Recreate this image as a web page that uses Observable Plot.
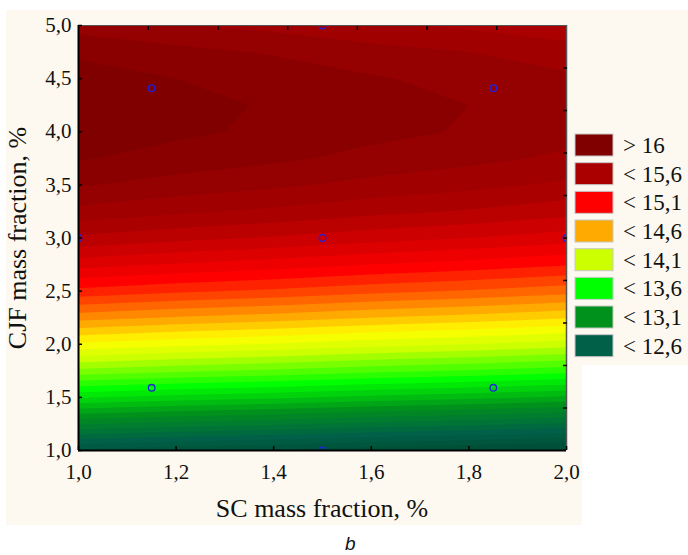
<!DOCTYPE html>
<html>
<head>
<meta charset="utf-8">
<script src="https://cdn.jsdelivr.net/npm/d3@7"></script>
<script src="https://cdn.jsdelivr.net/npm/@observablehq/plot@0.6"></script>
<style>
  body { margin: 0; background: #ffffff; }
  #chart { width: 688px; height: 555px; }
</style>
</head>
<body>
<div id="chart"></div>
<script>
// ---- data ----
const xLevels = [1.0, 1.2, 1.4, 1.6, 1.8, 2.0];          // SC mass fraction, %
const yLevels = [1.00, 1.25, 1.50, 1.75, 2.00, 2.25, 2.50, 2.75, 3.00,
                 3.25, 3.50, 3.75, 4.00, 4.25, 4.50, 4.75, 5.00]; // CJF mass fraction, %
// response values, one row per CJF level, one entry per SC level
const zRows = [
  [12.47, 12.42, 12.38, 12.33, 12.29, 12.24],
  [13.01, 12.96, 12.92, 12.87, 12.83, 12.78],
  [13.51, 13.46, 13.42, 13.37, 13.33, 13.28],
  [13.97, 13.92, 13.88, 13.83, 13.79, 13.74],
  [14.38, 14.33, 14.29, 14.24, 14.20, 14.15],
  [14.74, 14.69, 14.65, 14.60, 14.56, 14.51],
  [15.07, 15.02, 14.98, 14.93, 14.89, 14.84],
  [15.34, 15.29, 15.25, 15.20, 15.16, 15.11],
  [15.58, 15.53, 15.49, 15.44, 15.40, 15.35],
  [15.77, 15.72, 15.68, 15.63, 15.59, 15.54],
  [15.91, 15.86, 15.82, 15.77, 15.73, 15.68],
  [16.01, 15.96, 15.92, 15.87, 15.83, 15.78],
  [16.07, 16.02, 15.98, 15.93, 15.89, 15.84],
  [16.08, 16.03, 15.99, 15.94, 15.90, 15.85],
  [16.05, 16.00, 15.96, 15.91, 15.87, 15.82],
  [15.98, 15.93, 15.89, 15.84, 15.80, 15.75],
  [15.86, 15.81, 15.77, 15.72, 15.68, 15.63]
];
// design (experiment) points
const designX = [1.15, 1.85, 1.50, 1.00, 1.50, 2.00, 1.15, 1.85, 1.50];
const designY = [4.41, 4.41, 5.00, 3.00, 3.00, 3.00, 1.59, 1.59, 1.00];
// ticks
const xTicks = [1.0, 1.2, 1.4, 1.6, 1.8, 2.0];
const yTicks = [1.0, 1.5, 2.0, 2.5, 3.0, 3.5, 4.0, 4.5, 5.0];
const xTicksTop = [8/7, 9/7, 10/7, 11/7, 12/7, 13/7];
const yTicksRight = [1.4, 1.8, 2.2, 2.6, 3.0, 3.4, 3.8, 4.2, 4.6];
// legend
const legendLabels = ["> 16", "< 15,6", "< 15,1", "< 14,6", "< 14,1", "< 13,6", "< 13,1", "< 12,6"];
const legendColors = ["#800000", "#aa0000", "#ff0000", "#ffaa00", "#ccff00", "#00ff00", "#00901c", "#006048"];
// colour ramp used for the fine contour bands
const colorStops = [12.3, 12.6, 13.1, 13.6, 14.1, 14.35, 14.6, 15.1, 15.6, 16.0];
const stopColors = ["#005038", "#006048", "#00901c", "#00ff00", "#ccff00", "#ffff00", "#ffaa00", "#ff0000", "#aa0000", "#800000"];
const thresholds = d3.range(120, 162).map(d => d / 10);

// ---- build tables ----
const surface = yLevels.flatMap((y, i) => xLevels.map((x, j) => ({x, y, z: zRows[i][j]})));
const design = designX.map((x, i) => ({x, y: designY[i]}));
const fmt = d => d.toFixed(1).replace(".", ",");
const serif = "Liberation Serif, Times New Roman, serif";

const W = 688, H = 555;
const plot = Plot.plot({
  width: W, height: H,
  marginLeft: 78, marginRight: 122, marginTop: 25, marginBottom: 105,
  style: {background: "transparent", color: "#111"},
  x: {domain: [1, 2]},
  y: {domain: [1, 5]},
  color: {type: "linear", domain: colorStops, range: stopColors, interpolate: "rgb", clamp: true},
  marks: [
    Plot.contour(surface, {x: "x", y: "y", fill: "z", interpolate: "barycentric", thresholds, stroke: "none"}),
    Plot.dot(design, {x: "x", y: "y", r: 3.3, stroke: "#2222dd", strokeWidth: 1.3, fill: "none", clip: true}),
    // frame
    Plot.ruleY([5], {stroke: "#555", strokeWidth: 1.2}),
    Plot.ruleX([2], {stroke: "#555", strokeWidth: 1.5}),
    Plot.ruleX([1], {stroke: "#000", strokeWidth: 2}),
    Plot.ruleY([1], {stroke: "#000", strokeWidth: 2}),
    // inward ticks on all four sides
    Plot.axisX(xTicks, {anchor: "bottom", tickSize: 4, dy: -4, fill: "none", stroke: "#000", strokeWidth: 1.5}),
    Plot.axisX(xTicksTop, {anchor: "top", tickSize: 4, dy: 4, fill: "none", stroke: "#000", strokeWidth: 1.5}),
    Plot.axisY(yTicks, {anchor: "left", tickSize: 4, dx: 4, fill: "none", stroke: "#000", strokeWidth: 1.5}),
    Plot.axisY(yTicksRight, {anchor: "right", tickSize: 4, dx: -4, fill: "none", stroke: "#000", strokeWidth: 1.5}),
    // tick labels
    Plot.axisX(xTicks, {anchor: "bottom", tickSize: 0, tickPadding: 14, tickFormat: fmt, label: null}),
    Plot.axisY(yTicks, {anchor: "left", tickSize: 0, tickPadding: 7, tickFormat: fmt, label: null})
  ]
});

const svg = d3.select(plot);
// tick labels in a serif face, at the reference size
svg.selectAll("g").filter(function() { return this.querySelector(":scope > text"); })
  .attr("font-family", serif).attr("font-size", 21);
svg.selectAll("text").attr("font-family", serif).attr("font-size", 21).attr("fill", "#111");

// cream panels behind the chart
svg.insert("rect", ":first-child").attr("x", 566).attr("y", 10).attr("width", 122).attr("height", 355).attr("fill", "#fdf9f0");
svg.insert("rect", ":first-child").attr("x", 6).attr("y", 10).attr("width", 576).attr("height", 515).attr("fill", "#fdf9f0");

// axis titles
svg.append("text").attr("x", 322).attr("y", 517).attr("text-anchor", "middle")
  .attr("font-family", serif).attr("font-size", 26).attr("fill", "#111").text("SC mass fraction, %");
svg.append("text").attr("transform", "translate(26,238) rotate(-90)").attr("text-anchor", "middle")
  .attr("font-family", serif).attr("font-size", 26).attr("fill", "#111").text("CJF mass fraction, %");

// legend
const lg = svg.append("g").attr("text-anchor", "start");
legendLabels.forEach((lab, i) => {
  const y0 = 134 + i * 28.67;
  lg.append("rect").attr("x", 575).attr("y", y0).attr("width", 38).attr("height", 22)
    .attr("fill", legendColors[i]).attr("stroke", "#c8c8c8").attr("stroke-width", 1);
  lg.append("text").attr("x", 623).attr("y", y0 + 19).attr("text-anchor", "start").attr("font-family", serif)
    .attr("font-size", 23).attr("fill", "#111").text(lab);
});

// caption
svg.append("text").attr("x", 345).attr("y", 550).attr("text-anchor", "start")
  .attr("font-family", "Liberation Sans, Arial, sans-serif")
  .attr("font-style", "italic").attr("font-size", 19).attr("fill", "#111").text("b");

document.getElementById("chart").appendChild(plot);
</script>
</body>
</html>
